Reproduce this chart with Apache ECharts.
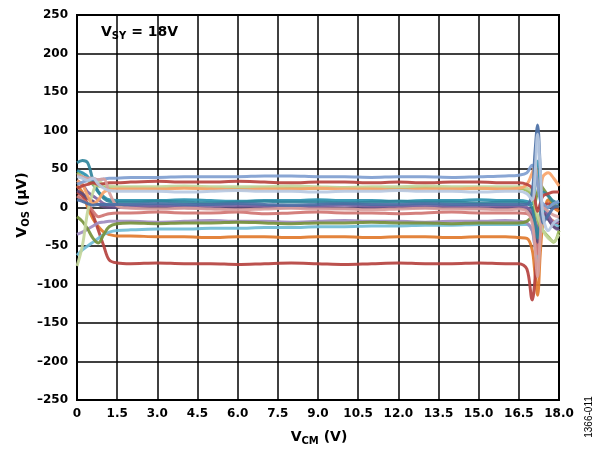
<!DOCTYPE html>
<html><head><meta charset="utf-8">
<script src="https://cdn.jsdelivr.net/npm/echarts@6/dist/echarts.min.js"></script>
<style>html,body{margin:0;padding:0;background:#fff}#c{width:598px;height:449px}</style>
</head><body><div id="c"></div>
<script>
// Shared x positions (VCM, V)
const X = [0,0.2,0.4,0.6,0.8,1.0,1.2,1.5,2,3,4,5,6,7,8,9,10,11,12,13,14,15,16,16.5,16.8,17.0,17.1,17.2,17.3,17.4,17.6,17.8,18.0];
const xTicks = ['0','1.5','3.0','4.5','6.0','7.5','9.0','10.5','12.0','13.5','15.0','16.5','18.0'];
const yTicks = [250,200,150,100,50,0,-50,-100,-150,-200,-250];

// VOS (uV) traces, one per device
const sSteel   = [30,33,35,37,36,37,38,38, 39,39,40,40,40,41,41,40,40,39,40,40,39,40,41, 42,45,55,50,30,10,5,0,5,8];
const sRed     = [25,28,30,32,30,31,32,32, 33,34,33,33,34,33,32,33,33,32,33,32,33,33,32, 32,30,25,10,-5,5,15,18,20,20];
const sGreen   = [45,40,35,30,28,27,26,26, 26,25,26,25,25,26,25,25,26,25,25,26,25,25,25, 25,22,15,0,-15,-25,-30,-38,-45,-30];
const sLtGreen = [-76,-50,-5,20,34,30,28,27, 27,27,28,27,27,27,28,27,26,27,27,28,27,27,27, 27,25,20,5,-10,-20,-30,-40,-44,-35];
const sOlive   = [-12,-18,-28,-40,-46,-35,-25,-21, -20,-21,-20,-20,-19,-20,-21,-20,-20,-19,-20,-20,-21,-20,-20, -20,-18,-10,5,20,30,25,15,5,0];
const sPeach   = [35,30,15,5,10,20,23,24, 24,24,25,24,23,24,24,25,24,24,23,24,24,25,24, 25,30,45,55,30,20,40,45,38,28];
const sPale    = [40,38,35,38,30,25,22,21, 21,21,20,21,22,21,21,20,21,21,22,21,21,20,21, 21,18,10,40,95,50,-10,-30,-20,-15];
const sDkBlue  = [10,8,5,3,4,4,4,4, 4,5,4,4,5,4,3,4,5,4,4,5,4,4,4, 4,4,20,70,107,50,-20,-10,0,2];
const sTeal    = [58,61,58,35,20,12,8,7, 7,8,7,6,7,8,7,7,6,7,8,7,7,6,7, 7,5,0,-20,-40,-10,20,15,8,5];
const sAqua    = [48,45,40,30,20,14,10,9, 9,9,10,9,8,9,9,10,9,9,8,9,9,10,9, 9,8,5,30,60,20,-5,0,5,8];
const sPurple  = [35,30,20,15,10,5,3,2, 2,3,2,2,3,2,1,2,3,2,2,3,2,2,2, 2,0,-5,-15,-30,-15,0,-10,-20,-18];
const sDkPurp  = [22,18,12,8,4,1,0,0, 0,1,0,-1,0,1,0,0,-1,0,1,0,0,-1,0, 0,-2,-10,-25,-45,-20,-5,-15,-25,-28];
const sPink    = [42,40,38,38,36,37,20,2, -1,-2,-1,-2,-3,-2,-1,-2,-2,-3,-2,-1,-2,-2,-3, -2,-5,-20,-50,-90,-40,0,-5,-10,-12];
const sSalmon  = [15,10,5,-5,-12,-10,-8,-7, -7,-6,-7,-7,-6,-8,-7,-6,-7,-7,-8,-7,-6,-7,-7, -7,-8,-15,-35,-60,-25,-5,-12,-18,-20];
const sLavender= [-35,-32,-28,-24,-20,-19,-18,-18, -18,-19,-18,-17,-18,-18,-19,-18,-17,-18,-18,-19,-18,-18,-17, -18,-20,-30,-50,-60,-20,-5,-15,-25,-30];
const sCyan    = [-62,-55,-50,-45,-40,-35,-32,-30, -29,-28,-28,-27,-27,-26,-26,-25,-25,-24,-24,-23,-23,-22,-22, -22,-22,-30,-50,-70,-30,-10,-15,-20,-25];
const sOrange  = [28,20,0,-15,-25,-32,-35,-37, -37,-38,-38,-39,-38,-38,-39,-38,-38,-39,-38,-38,-39,-38,-38, -39,-40,-55,-85,-114,-60,-20,10,0,-5];
const sDkRed   = [20,15,5,-10,-30,-50,-68,-72, -73,-72,-73,-73,-74,-73,-72,-73,-74,-73,-72,-73,-73,-72,-73, -73,-80,-120,-95,-40,-10,0,5,0,0];

const traces = [
  ['#E17A2C', sOrange], ['#B5423F', sDkRed], ['#6FBCD6', sCyan], ['#A08CC0', sLavender],
  ['#77933C', sOlive], ['#D07572', sSalmon], ['#604A7B', sDkPurp], ['#8064A2', sPurple],
  ['#2C93B0', sAqua], ['#31859C', sTeal], ['#9BBB59', sGreen], ['#C3D69B', sLtGreen],
  ['#F9A46A', sPeach], ['#B9433F', sRed], ['#7F9ED0', sSteel], ['#D9A09E', sPink],
  ['#4A6FA5', sDkBlue], ['#B7C9E2', sPale]
];

const chart = echarts.init(document.getElementById('c'), null, {renderer:'canvas'});
const F = '"DejaVu Sans", sans-serif';
const series = traces.map(([color, vals]) => ({
  type:'line', showSymbol:false, smooth:0.35, animation:false,
  data: X.map((x,i)=>[x, vals[i]]),
  lineStyle:{color:color, width:3, opacity:0.92}, itemStyle:{color:color}
}));

chart.setOption({
  animation:false,
  grid:{left:77, top:15, right:39, bottom:49, show:true, borderColor:'#000', borderWidth:2},
  xAxis:{type:'value', min:0, max:18, interval:1.5,
    axisLine:{show:false}, axisTick:{show:false},
    splitLine:{show:true, lineStyle:{color:'#000', width:1.5}},
    axisLabel:{margin:8, color:'#000', fontFamily:F, fontWeight:'bold', fontSize:12,
      formatter:(v)=>{const i=Math.round(v/1.5); return xTicks[i]!==undefined?xTicks[i]:'';}}},
  yAxis:{type:'value', min:-250, max:250, interval:50,
    axisLine:{show:false}, axisTick:{show:false},
    splitLine:{show:true, lineStyle:{color:'#000', width:1.5}},
    axisLabel:{margin:9, color:'#000', fontFamily:F, fontWeight:'bold', fontSize:12,
      formatter:(v)=>{const t=yTicks.find(y=>y===v); return t===undefined?'':(t<0?'\u2013'+(-t):String(t));}}},
  graphic:[
    {type:'text', left:101, top:25, style:{text:'{a|V}{b|SY}{a| = 18V}', rich:{
      a:{fontFamily:F, fontWeight:'bold', fontSize:14, fill:'#000'},
      b:{fontFamily:F, fontWeight:'bold', fontSize:10, fill:'#000', padding:[8,0,0,0]}}}},
    {type:'text', x:319, y:437, style:{text:'{a|V}{b|CM}{a| (V)}', align:'center', verticalAlign:'middle', rich:{
      a:{fontFamily:F, fontWeight:'bold', fontSize:14, fill:'#000'},
      b:{fontFamily:F, fontWeight:'bold', fontSize:10, fill:'#000', padding:[8,0,0,0]}}}},
    {type:'text', x:22, y:205, rotation:Math.PI/2, style:{text:'{a|V}{b|OS}{a| (µV)}', align:'center', verticalAlign:'middle', rich:{
      a:{fontFamily:F, fontWeight:'bold', fontSize:14, fill:'#000'},
      b:{fontFamily:F, fontWeight:'bold', fontSize:10, fill:'#000', padding:[8,0,0,0]}}}},
    {type:'text', x:589, y:417, rotation:Math.PI/2, style:{text:'1366-011', align:'center', verticalAlign:'middle',
      fontFamily:'"Liberation Sans", Arial, sans-serif', fontSize:10, fill:'#000'}}
  ],
  series: series
});
</script></body></html>
